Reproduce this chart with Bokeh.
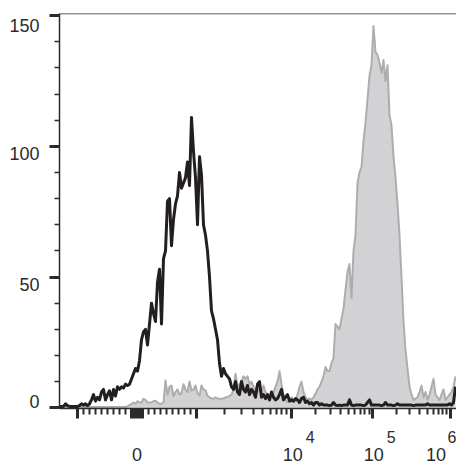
import math
from bokeh.plotting import figure
from bokeh.models import Range1d, FixedTicker, Span, ColumnDataSource, LinearAxis
from bokeh.embed import file_html
from bokeh.resources import INLINE

# ---------------- data ----------------
# histogram bins on the display (channel) scale: first bin, bin step
BIN_FIRST = 0
BIN_STEP = 2

black_counts = [
    0.5, 0.5, 0.5, 1.5, 0.8, 0.5, 0.5, 0.5, 0.5, 0.5,
    0.8, 1.5, 1, 1.5, 0.8, 1.5, 3, 5, 2.5, 4,
    3, 6, 7, 3, 5, 6.5, 3, 7, 4.5, 8,
    7, 8, 7.5, 9, 8.5, 9, 11, 13, 15, 14,
    18, 26, 29, 30, 24, 32, 40, 36, 33, 48,
    53, 32, 57, 60, 79, 80, 62, 72, 78, 81,
    90, 84, 86, 88, 94, 85, 111, 98, 88, 70,
    96, 89, 70, 66, 60, 50, 37, 34, 30, 26,
    17, 12, 15, 13, 12, 11, 8, 7, 10, 6,
    5, 10, 7, 6, 8.5, 5, 7, 6, 4, 9,
    10, 4, 5, 3.5, 5, 3, 6, 4, 3, 3.5,
    5, 7, 3, 4, 5, 2.5, 3, 2.5, 3.5, 3,
    2, 3.5, 4, 2, 2.5, 1.5, 2, 1, 2, 2,
    1, 1.5, 1, 1, 1, 0.8, 1, 2, 1, 0.8,
    1, 0.8, 1, 1, 1, 3, 1, 0.8, 1, 1,
    1, 1, 0.8, 1, 2, 3, 1, 1, 1, 1,
    1, 0.8, 1, 2, 1, 1, 1, 0.8, 1, 1.5,
    1, 1, 1, 1, 1, 1, 1, 0.8, 1, 1,
    1, 1, 1, 1, 1.5, 1, 1, 1, 1, 1,
    1, 1, 1, 1, 1, 1.5, 1, 2, 8,
]

gray_counts = [
    0.3, 0.3, 0.3, 0.3, 0.3, 0.3, 0.3, 0.3, 0.3, 0.3,
    0.3, 0.3, 0.3, 0.3, 0.3, 0.3, 0.3, 0.3, 0.3, 0.3,
    0.3, 0.3, 0.3, 0.3, 0.3, 0.3, 0.3, 0.3, 0.3, 0.3,
    0.3, 0.3, 0.3, 0.3, 0.5, 1, 1.5, 2, 1.5, 2.5,
    2, 2, 3.4, 3, 2, 2, 2, 2.5, 2.7, 2,
    1.5, 1.5, 2, 10.4, 5, 8, 8.5, 4.5, 6, 7,
    5, 5.5, 9, 7, 6, 10, 6.5, 7, 8.5, 5.5,
    4.7, 8.5, 7, 6.6, 4.5, 4, 3.5, 3.4, 4, 3.5,
    3.4, 3.4, 3.5, 4, 4, 4.5, 5, 7, 13, 8,
    9, 10, 12, 11, 12, 9, 10, 8, 7, 6,
    7, 6, 8.5, 6, 5, 4, 5, 6, 8, 10,
    14, 9, 5, 3, 2, 3, 4, 3, 2.5, 5,
    8, 10, 6, 4, 3, 3.5, 3, 4, 5.3, 7,
    8, 10, 12, 15.6, 14, 14, 17, 19, 32, 31,
    30, 34, 38, 45, 52, 55, 42, 60, 66, 86,
    90, 92, 102, 109, 118, 127, 131, 146, 136, 135,
    132, 128, 133, 125, 131, 112, 108, 96, 88, 78,
    66, 50, 33, 22, 15, 8, 5, 3, 3.5, 4,
    6, 8.5, 4, 6, 3, 5, 8, 11, 5, 4,
    3, 5, 7, 3, 4, 5, 6, 8, 12,
]

y_ticks = [0, 50, 100, 150]
y_minor_ticks = [10, 20, 30, 40, 60, 70, 80, 90, 110, 120, 130, 140]
y_tick_labels = ["0", "50", "100", "150"]

x_label_values = [0, 1e4, 1e5, 1e6]
x_label_base = ["0", "10", "10", "10"]
x_label_exp = ["", "4", "5", "6"]

# ---------------- axis geometry (biexponential display) ----------------
X_MAX = 397.0
Y_MIN, Y_MAX = -0.3, 150.8
LIN_ZERO = 77.5          # display position of 0
LIN_SLOPE = 0.0592       # display units per intensity unit in linear zone
DECADE_POS = {3: 136.7, 4: 231.7, 5: 313.3, 6: 391.0}

# label placement tweaks (display units / data units)
Y_LABEL_NUDGE = [2.4, -2.7, -2.9, -3.6]
X_LABEL_SHIFT = [0, 1.5, 1, -14.5]
EXP_GAP = 17.5


def disp(v):
    if abs(v) <= 1000:
        return LIN_ZERO + v * LIN_SLOPE
    d = math.log10(v)
    k = int(math.floor(d))
    if k >= 6:
        return DECADE_POS[6]
    return DECADE_POS[k] + (d - k) * (DECADE_POS[k + 1] - DECADE_POS[k])


x_major = [disp(v) for v in [-1000, 1000, 1e4, 1e5, 1e6]] + [disp(v) for v in range(-100, 101, 10)]
x_minor = [disp(v) for v in list(range(-900, -100, 100)) + list(range(200, 1000, 100))]
for dec in (3, 4, 5):
    x_minor += [disp(m * 10 ** dec) for m in range(2, 10)]

bins = [BIN_FIRST + BIN_STEP * i for i in range(len(black_counts))]
src = ColumnDataSource(dict(x=bins, black=black_counts, gray=gray_counts,
                            zero=[0] * len(bins)))

AX = "#2b2b2b"
FONT = "Liberation Sans"

p = figure(width=456, height=463, output_backend="svg", toolbar_location=None,
           x_range=Range1d(0, X_MAX), y_range=Range1d(Y_MIN, Y_MAX),
           min_border_left=59, min_border_right=0, min_border_top=13,
           min_border_bottom=53)
p.grid.visible = False
p.outline_line_color = None
p.background_fill_color = "white"
p.border_fill_color = "white"

p.varea(x="x", y1="zero", y2="gray", source=src, fill_color="#d2d2d4")
p.line(x="x", y="gray", source=src, line_color="#adadb0", line_width=2,
       line_join="round")
p.line(x="x", y="black", source=src, line_color="#231f20", line_width=3,
       line_join="round")


def style_tick_axis(ax, major, minor, major_out, minor_out, minor_w):
    ax.ticker = FixedTicker(ticks=major, minor_ticks=minor)
    ax.major_label_overrides = {t: "" for t in major}
    ax.major_label_text_font_size = "0px"
    ax.major_label_standoff = 0
    ax.axis_line_color = AX
    ax.axis_line_width = 1.5
    ax.major_tick_in = 0
    ax.major_tick_out = major_out
    ax.major_tick_line_width = 3
    ax.major_tick_line_color = AX
    ax.minor_tick_in = 0
    ax.minor_tick_out = minor_out
    ax.minor_tick_line_width = minor_w
    ax.minor_tick_line_color = AX


def label_axis(positions, texts, size, standoff):
    ax = LinearAxis(ticker=FixedTicker(ticks=positions, minor_ticks=[]),
                    major_label_overrides=dict(zip(positions, texts)))
    ax.axis_line_color = None
    ax.major_tick_line_color = None
    ax.minor_tick_line_color = None
    ax.major_tick_in = 0
    ax.major_tick_out = 0
    ax.minor_tick_in = 0
    ax.minor_tick_out = 0
    ax.major_label_standoff = standoff
    ax.major_label_text_font = FONT
    ax.major_label_text_font_size = size
    ax.major_label_text_color = AX
    return ax


style_tick_axis(p.xaxis[0], x_major, x_minor, 10, 6, 2)
style_tick_axis(p.yaxis[0], y_ticks, y_minor_ticks, 10, 5, 1.5)

# y tick labels
y_pos = [v + n for v, n in zip(y_ticks, Y_LABEL_NUDGE)]
p.add_layout(label_axis(y_pos, y_tick_labels, "18px", 10), "left")

# x tick labels: superscript exponents row, then base row
base_pos = [disp(v) + s for v, s in zip(x_label_values, X_LABEL_SHIFT)]
exp_pos = [b + EXP_GAP for b, e in zip(base_pos, x_label_exp) if e]
exp_txt = [e for e in x_label_exp if e]
p.add_layout(label_axis(exp_pos, exp_txt, "16px", 12), "below")
p.add_layout(label_axis(base_pos, x_label_base, "18px", 2), "below")

p.add_layout(Span(location=Y_MAX, dimension="width", line_color=AX, line_width=1.3))

open("out.html", "w").write(file_html(p, INLINE))
